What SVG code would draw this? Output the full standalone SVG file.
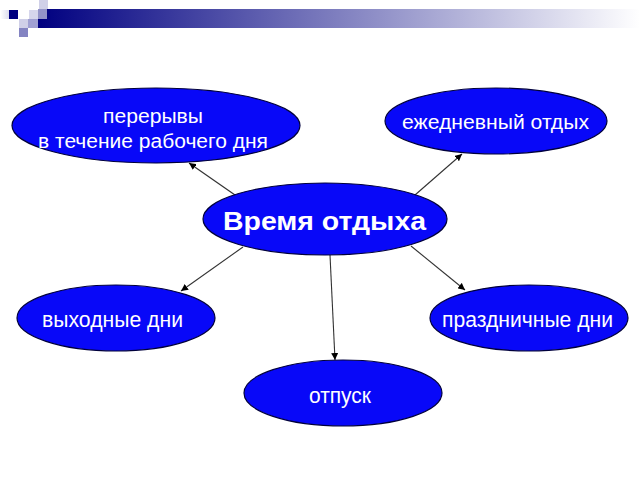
<svg xmlns="http://www.w3.org/2000/svg" width="640" height="480" viewBox="0 0 640 480">
<defs>
<linearGradient id="bar" x1="0" y1="0" x2="1" y2="0">
<stop offset="0" stop-color="#000080"/>
<stop offset="1" stop-color="#ffffff"/>
</linearGradient>
<linearGradient id="fade" x1="0" y1="0" x2="1" y2="0">
<stop offset="0" stop-color="#ffffff"/>
<stop offset="1" stop-color="#dcdcee"/>
</linearGradient>
<marker id="arr" viewBox="0 0 10 10" refX="10" refY="5" markerWidth="7" markerHeight="7" markerUnits="userSpaceOnUse" orient="auto">
<path d="M0,0 L10,5 L0,10 z" fill="#000"/>
</marker>
<style>
.node ellipse{fill:#0808f8;stroke:#00003c;stroke-width:1.2}
.node text{fill:#ffffff;font-family:"Liberation Sans",Arial,sans-serif;text-anchor:middle}
.conn line{stroke:#333333;stroke-width:1.1;marker-end:url(#arr)}
</style>
</defs>
<rect width="640" height="480" fill="#ffffff"/>
<g id="decor">
<rect x="38" y="9" width="602" height="19" fill="url(#bar)"/>
<rect x="0" y="10" width="9" height="9" fill="url(#fade)"/>
<rect x="39" y="0" width="9" height="9" fill="#d0d0e8"/>
<rect x="9" y="10" width="9" height="9" fill="#000080"/>
<rect x="29" y="10" width="9" height="9" fill="#d6d6ec"/>
<rect x="38" y="9" width="9" height="10" fill="#9494c8"/>
<rect x="19" y="19" width="9" height="9" fill="#d0d0e8"/>
<rect x="28" y="19" width="10" height="9" fill="#a0a0d2"/>
<rect x="19" y="28" width="9" height="9" fill="#8484c2"/>
</g>
<g id="connectors" class="conn">
<line x1="235" y1="195" x2="189" y2="163"/>
<line x1="415" y1="195" x2="462" y2="154"/>
<line x1="243" y1="247" x2="181" y2="291"/>
<line x1="411" y1="246" x2="465" y2="290"/>
<line x1="330" y1="255" x2="335" y2="360"/>
</g>
<g id="node-breaks" class="node">
<ellipse cx="156" cy="125.5" rx="144" ry="37.5"/>
<text x="153" y="123" font-size="20" textLength="100" lengthAdjust="spacingAndGlyphs">перерывы</text>
<text x="153" y="148" font-size="20" textLength="230" lengthAdjust="spacingAndGlyphs">в течение рабочего дня</text>
</g>
<g id="node-daily" class="node">
<ellipse cx="496" cy="121" rx="111" ry="33"/>
<text x="495.5" y="129" font-size="21" textLength="187" lengthAdjust="spacingAndGlyphs">ежедневный отдых</text>
</g>
<g id="node-center" class="node">
<ellipse cx="325" cy="219" rx="122" ry="36"/>
<text x="324.5" y="230" font-size="26" font-weight="bold" textLength="203" lengthAdjust="spacingAndGlyphs">Время отдыха</text>
</g>
<g id="node-weekend" class="node">
<ellipse cx="116" cy="318" rx="99" ry="33"/>
<text x="112.5" y="327" font-size="22" textLength="141" lengthAdjust="spacingAndGlyphs">выходные дни</text>
</g>
<g id="node-holidays" class="node">
<ellipse cx="529" cy="318" rx="99" ry="33"/>
<text x="527.5" y="327" font-size="22" textLength="171" lengthAdjust="spacingAndGlyphs">праздничные дни</text>
</g>
<g id="node-vacation" class="node">
<ellipse cx="343" cy="393" rx="99" ry="33"/>
<text x="340" y="403" font-size="22" textLength="62" lengthAdjust="spacingAndGlyphs">отпуск</text>
</g>
</svg>
